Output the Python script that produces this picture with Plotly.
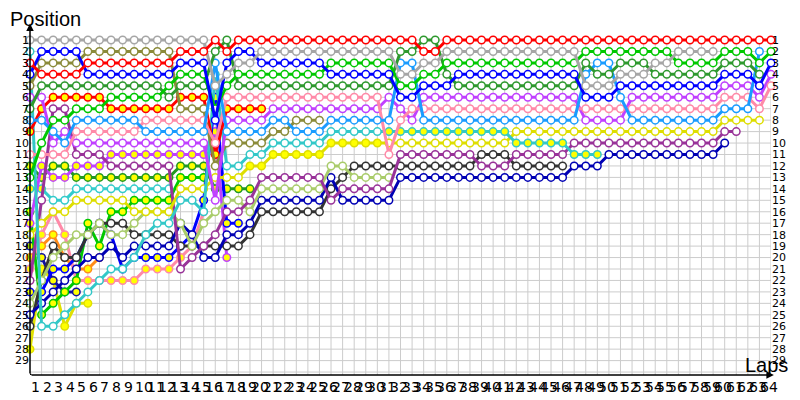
import plotly.graph_objects as go

# ---------------- data (position per lap, lap 0 = grid) ----------------
lap_labels = [str(n) for n in range(1, 65)]
pos_values = list(range(1, 30))
pos_labels = [str(p) for p in pos_values]

red = [3,4,4,4,4,3,3,3,3,3,
       3,3,3,2,2,2,1,2,1,1,
       1,1,1,1,1,1,1,1,1,1,
       1,1,1,1,2,2,1,1,1,1,
       1,1,1,1,1,1,1,1,1,1,
       1,1,1,1,1,1,1,1,1,1,
       1,1,1,1,1]
gray = [1,1,1,1,1,1,1,1,1,1,
        1,1,1,1,1,1,5,4,3,3,
        2,2,2,2,2,2,2,2,2,2,
        2,2,4,4,3,3,2,2,2,2,
        2,2,2,2,2,2,2,2,5,5,
        5,4,4,4,3,3,2,2,2,2]
blue = [4,2,2,2,2,4,4,4,4,4,
        4,4,4,3,3,3,8,3,2,2,
        3,3,3,3,3,3,4,4,4,4,
        4,4,6,6,5,5,5,4,4,4,
        4,4,4,4,4,4,4,4,6,6,
        6,5,5,5,5,5,5,5,5,5,
        4,4,4,5,3]
olive = [5,3,3,3,3,2,2,2,2,2,
         2,2,2,7,7,7,12,10,10,10,
         10,9,9,8,8,8]
dkgreen = [7,5,5,5,5,5,5,5,5,5,
           5,5,6,5,5,5,2,1,5,5,
           5,5,5,5,5,5,5,5,5,5,
           5,5,2,2,1,1,4,5,5,5,
           5,5,5,5,5,5,5,5,3,4,
           4,3,3,3,4,4,4,4,4,4,
           3,3,3,4]
green = [13,10,8,8,7,7,7,6,6,6,
         6,6,5,4,4,4,7,5,4,4,
         4,4,4,4,4,4,3,3,3,3,
         3,3,5,5,4,4,3,3,3,3,
         3,3,3,3,3,3,3,3,2,2,
         2,2,2,2,2,2,3,3,3,3,
         2,2,2,3,2]
lightblue = [8,8,9,10,8,8,8,8,8,8,
             9,9,9,9,9,9,3,9,9,9,
             9,8,8,9,9,9,8,8,8,8,
             8,8,3,3,8,8,8,8,8,8,
             8,8,8,8,8,8,8,8,4,3,
             3,6,8,8,8,8,8,8,8,8,
             7,7,7,2]
pink = [11,11,11,11,9,9,9,9,9,9,
        8,8,8,8,8,8,10,6,6,6,
        6,6,6,6,6,6,6,6,6,6,
        6,11,8,7,7,7,7,7,7,7,
        7,7,7,7,7,7,7,7,7,7,
        7,7,7,7,7,7,7,7,7,7,
        6,6,6,7,5]
magenta = [6,6,10,9,10,10,10,10,10,10,
           10,10,10,10,10,10,15,8,8,8,
           8,7,7,7,7,7,7,7,7,7,
           7,6,7,8,6,6,6,6,6,6,
           6,6,6,6,6,6,6,6,8,8,
           8,8,6,6,6,6,6,6,6,6,
           5,5,5,6,4]
red_y = [9,7,6,6,6,6,6,7,7,7,
         7,7,7,6,6,6,11,7,7,7,
         7]
cyan = [2,26,26,25,24,23,22,21,21,20,
        18,17,17,15,15,16,4,12,12,11,
        11,10,10,10,10,10,9,9,9,9,
        9,9,9,9,9,9,9,9,9,9,
        9,9,10,10,10,10,10,11,11,11]
yellow = [18,17,16,16,15,15,15,15,15,16,
          16,16,16,14,14,14,13,13,13,12,
          12,11,11,11,11,11,10,10,10,10,
          10,10,10,10,10,10,10,10,10,10,
          10,10,9,9,9,9,9,9,9,9,
          9,9,9,9,9,9,9,9,9,9,
          8,8,8,8]
purple = [22,15,7,7,11,11,11,12,12,12,
          12,12,12,21,20,19,18,16,16,15,
          13,13,13,13,13,13,15,14,14,14,
          14,14,11,11,11,11,11,11,11,12,
          12,12,11,11,11,11,11,10,10,10,
          10,10,10,10,10,10,10,10,10,10,
          9,9]
magenta_y = [17,12,13,13,12,12,12,11,11,11,
             11,11,11,11,11,11,9,20]
green_y1 = [12,13,12,12,13,13,13,13,13,13,
            13,13,13,12,12,12,14,14,14,14]
cyan2 = [14,14,15,15,14,14,14,14,14,14,
         14,14,14]
green_y2 = [16,25,24,23,22,17,19,16,16,15,
            15,15,15,13,13,13]
pink_y = [21,18,16,18,22,22,22,22,22,22,
          21,21,21,20,19,16]
navy_y = [19,20,22,23,23]
orange_y = [20,19,18,20,21,21,20]
yellow_y2 = [28,21,22,26,24,24]
lightgreen = [24,22,20,19,18,18,17,18,18,17,
              16,16,16,17,19,17,16,15,15,16,
              14,14,14,14,14,14,12,12,13,13,
              13,13]
navy = [25,24,23,22,21,20,20,19,20,19,
        19,19,19,17,18,20,20,18,18,17,
        15,15,15,15,15,15,13,15,15,15,
        15,15,13,13,13,13,13,13,13,13,
        13,13,13,13,13,13,13,12,12,12,
        11,11,11,11,11,11,11,11,11,11,
        10]
dkgray = [26,22,19,20,20,18,17,17,17,18,
          18,18,18,19,19,19,19,19,19,18,
          16,16,16,16,16,16,14,13,12,12,
          12,12,12,12,12,12,12,12,12,11,
          11,11,12,12,12,12,12]
blue_y = [23,23,21,21,20,18,17,18,21,20,
          20,20,20,19,18,15,6,17,17]

# laps (inclusive ranges) drawn with a yellow-filled marker
fill_red_y = [(0, 20)]
fill_cyan = [(31, 49)]
fill_yellow = [(19, 30)]
fill_magenta_y = [(0, 17)]
fill_green_y1 = [(0, 19)]
fill_green_y2 = [(0, 15)]
fill_cyan2 = [(0, 1)]
fill_pink_y = [(0, 15)]
fill_navy_y = [(0, 4)]
fill_orange_y = [(0, 6)]
fill_yellow_y2 = [(0, 5)]
fill_blue_y = [(0, 18)]

drivers = [
    (yellow_y2, "#e0e000", fill_yellow_y2),
    (orange_y, "#ff8c1a", fill_orange_y),
    (navy_y, "#1010a0", fill_navy_y),
    (pink_y, "#ff8aa8", fill_pink_y),
    (green_y2, "#00c800", fill_green_y2),
    (cyan2, "#33cccc", fill_cyan2),
    (green_y1, "#229922", fill_green_y1),
    (magenta_y, "#c040ff", fill_magenta_y),
    (blue_y, "#0000ff", fill_blue_y),
    (dkgray, "#333333", []),
    (navy, "#0000b4", []),
    (lightgreen, "#a9cc6a", []),
    (purple, "#993399", []),
    (yellow, "#dede00", fill_yellow),
    (cyan, "#33c8c8", fill_cyan),
    (red_y, "#ff0000", fill_red_y),
    (olive, "#8b8b3a", []),
    (magenta, "#c040ff", []),
    (pink, "#ff8aa8", []),
    (lightblue, "#1a9cff", []),
    (dkgreen, "#2e992e", []),
    (green, "#00c800", []),
    (blue, "#0000ff", []),
    (gray, "#a6a6a6", []),
    (red, "#ff0000", []),
]

# ---------------- figure ----------------
# (the page body has an 8px margin, so the figure is 792x392 and sits at 8,8)
N_LAPS = 64
Y_BOTTOM = 30.258
Y_TOP = -0.572

fig = go.Figure()

for pos, col, fills in drivers:
    laps = list(range(len(pos)))
    mcol = ["#ffff00" if any(a <= l <= b for a, b in fills) else "#ffffff" for l in laps]
    fig.add_trace(go.Scatter(
        x=laps, y=pos, mode="lines+markers",
        line=dict(color=col, width=3),
        marker=dict(size=7.5, color=mcol, line=dict(color=col, width=1.5)),
        cliponaxis=False, hoverinfo="skip", showlegend=False))

# invisible trace for right-hand axis
fig.add_trace(go.Scatter(x=[0], y=[1], yaxis="y2", mode="markers",
                         marker=dict(opacity=0), hoverinfo="skip", showlegend=False))

shapes = []
for l in range(1, N_LAPS + 1):
    shapes.append(dict(type="line", xref="x", yref="y", x0=l, x1=l, y0=1, y1=Y_BOTTOM,
                       line=dict(color="#cccccc", width=1), layer="below"))
for p in range(1, 31):
    shapes.append(dict(type="line", xref="x", yref="y", x0=0, x1=N_LAPS, y0=p, y1=p,
                       line=dict(color="#cccccc", width=1), layer="below"))
shapes.append(dict(type="circle", xref="x", yref="y", x0=-0.15, x1=0.15,
                   y0=Y_BOTTOM - 0.15, y1=Y_BOTTOM + 0.15,
                   fillcolor="black", line=dict(color="black", width=0)))

annotations = []
for i, t in enumerate(lap_labels):
    annotations.append(dict(x=i, y=0, xref="x", yref="paper", text=t, showarrow=False,
                            xanchor="left", yanchor="top", xshift=-1, yshift=-2,
                            font=dict(family="DejaVu Sans", size=14, color="black")))
# axis arrows
annotations.append(dict(x=0, y=-0.45, ax=0, ay=Y_BOTTOM, xref="x", yref="y", axref="x", ayref="y",
                        showarrow=True, arrowhead=2, arrowsize=1, arrowwidth=1.5,
                        arrowcolor="black", text="", standoff=0, startstandoff=0))
annotations.append(dict(x=64.25, y=Y_BOTTOM, ax=0, ay=Y_BOTTOM, xref="x", yref="y", axref="x", ayref="y",
                        showarrow=True, arrowhead=2, arrowsize=1, arrowwidth=1.5,
                        arrowcolor="black", text="", standoff=0, startstandoff=0))
annotations.append(dict(x=-0.0297, y=1.0085, xref="paper", yref="paper", text="Position",
                        showarrow=False, xanchor="left", yanchor="middle",
                        font=dict(family="Liberation Sans", size=20, color="black")))
annotations.append(dict(x=0.962, y=0.027, xref="paper", yref="paper", text="Laps",
                        showarrow=False, xanchor="left", yanchor="middle",
                        font=dict(family="Liberation Sans", size=20, color="black")))

fig.update_layout(
    width=792, height=392,
    margin=dict(l=22, r=29, t=14, b=25, autoexpand=False),
    paper_bgcolor="white", plot_bgcolor="white",
    xaxis=dict(range=[0, N_LAPS], showgrid=False, zeroline=False, showticklabels=False,
               ticks="", showline=False, automargin=False),
    yaxis=dict(range=[Y_BOTTOM, Y_TOP], tickvals=pos_values, ticktext=pos_labels,
               showgrid=False, zeroline=False, ticks="", showline=False, automargin=False,
               tickfont=dict(family="DejaVu Sans", size=11, color="black")),
    yaxis2=dict(range=[Y_BOTTOM, Y_TOP], tickvals=pos_values, ticktext=pos_labels,
                overlaying="y", side="right", showgrid=False, zeroline=False, ticks="",
                showline=False, automargin=False,
                tickfont=dict(family="DejaVu Sans", size=11, color="black")),
    shapes=shapes,
    annotations=annotations,
)

fig.write_html("out.html")
